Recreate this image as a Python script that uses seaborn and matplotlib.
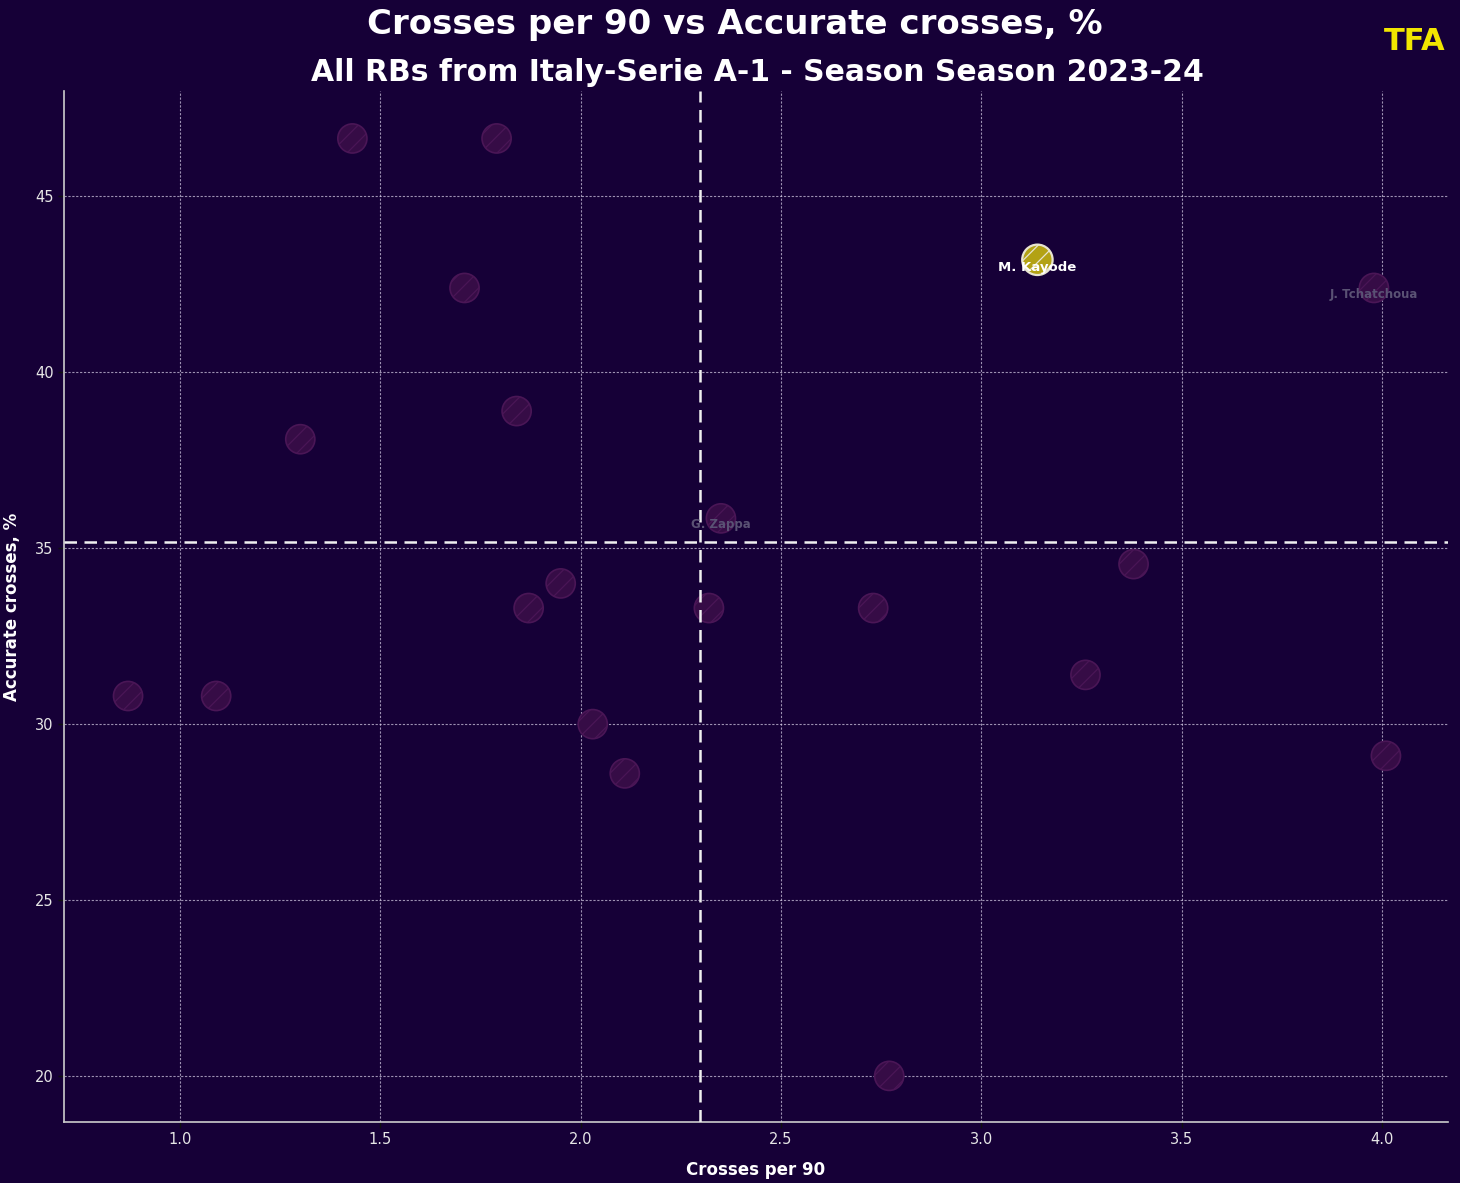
import matplotlib
matplotlib.use("Agg")
import matplotlib.pyplot as plt
import seaborn as sns
import pandas as pd
import numpy as np

# ---- data ----
players = ["P1", "P2", "P3", "P4", "P5", "G. Zappa", "P7", "P8", "P9", "P10",
           "P11", "P12", "P13", "P14", "P15", "P16", "P17", "P18",
           "M. Kayode", "J. Tchatchoua"]
crosses_p90 = [1.43, 1.79, 1.71, 1.30, 1.84, 2.35, 1.95, 1.87, 2.32, 2.73,
               3.38, 3.26, 0.87, 1.09, 2.03, 2.11, 4.01, 2.77,
               3.14, 3.98]
accurate_pct = [46.65, 46.65, 42.4, 38.1, 38.9, 35.85, 34.0, 33.3, 33.3, 33.3,
                34.55, 31.4, 30.8, 30.8, 30.0, 28.6, 29.1, 20.0,
                43.2, 42.4]
highlight = "M. Kayode"
grey_labels = ["G. Zappa", "J. Tchatchoua"]

title = "Crosses per 90 vs Accurate crosses, %"
subtitle = "All RBs from Italy-Serie A-1 - Season Season 2023-24"
xlabel = "Crosses per 90"
ylabel = "Accurate crosses, %"

df = pd.DataFrame({"player": players, "x": crosses_p90, "y": accurate_pct})
df["group"] = np.where(df["player"] == highlight, "hl", "other")

BG = "#160037"
sns.set_theme(style="white")
plt.rcParams["font.family"] = ["DejaVu Sans"]
plt.rcParams["hatch.linewidth"] = 0.9

fig = plt.figure(figsize=(14.6, 11.83), dpi=100, facecolor=BG)
ax = fig.add_axes([0.0438, 0.0516, 0.948, 0.8715])
ax.set_facecolor(BG)

others = df[df["group"] == "other"]
hl = df[df["group"] == "hl"]

sns.scatterplot(data=others, x="x", y="y", ax=ax, s=440, color="#360c46",
                edgecolor="#4a1656", linewidth=1.2, hatch="//", zorder=3,
                legend=False)
sns.scatterplot(data=hl, x="x", y="y", ax=ax, s=480, color="#b3a214",
                edgecolor="#e8e4d0", linewidth=1.6, hatch="//", zorder=4,
                legend=False)

# mean lines
ax.axvline(df["x"].mean(), color="#f0f0f0", ls=(0, (5, 3)), lw=1.8, zorder=5)
ax.axhline(df["y"].mean(), color="#f0f0f0", ls=(0, (5, 3)), lw=1.8, zorder=5)

# labels
for _, r in df.iterrows():
    if r["player"] == highlight:
        ax.annotate(r["player"], (r["x"], r["y"]), xytext=(0, -5.5),
                    textcoords="offset points", ha="center", va="center",
                    color="white", fontsize=9.5, fontweight="bold", zorder=6)
    elif r["player"] in grey_labels:
        ax.annotate(r["player"], (r["x"], r["y"]), xytext=(0, -4.5),
                    textcoords="offset points", ha="center", va="center",
                    color="#5a5274", fontsize=8.5, fontweight="bold", zorder=6)

ax.set_xlim(0.71, 4.165)
ax.set_ylim(18.69, 48.0)
ax.set_xticks([1.0, 1.5, 2.0, 2.5, 3.0, 3.5, 4.0])
ax.set_yticks([20, 25, 30, 35, 40, 45])
ax.grid(True, color="#d8d0e8", ls=(0, (2, 1.5)), lw=0.8, alpha=0.7, zorder=1)
ax.tick_params(axis="both", colors="#101010", labelcolor="#e6e6e6",
               labelsize=10.5, length=4, width=1, left=True, bottom=True)
for s in ["top", "right"]:
    ax.spines[s].set_visible(False)
for s in ["left", "bottom"]:
    ax.spines[s].set_color("#cccccc")
    ax.spines[s].set_linewidth(1.2)

ax.set_xlabel(xlabel, color="white", fontsize=12, fontweight="bold", labelpad=10)
ax.set_ylabel(ylabel, color="white", fontsize=12, fontweight="bold", labelpad=10)

fig.text(0.503, 0.979, title, ha="center", va="center", color="white",
         fontsize=24.5, fontweight="bold")
fig.text(0.519, 0.939, subtitle, ha="center", va="center", color="white",
         fontsize=21.5, fontweight="bold")
fig.text(0.969, 0.965, "TFA", ha="center", va="center", color="#f2e600",
         fontsize=22, fontweight="heavy")

fig.savefig("out.png", dpi=100, facecolor=BG)
